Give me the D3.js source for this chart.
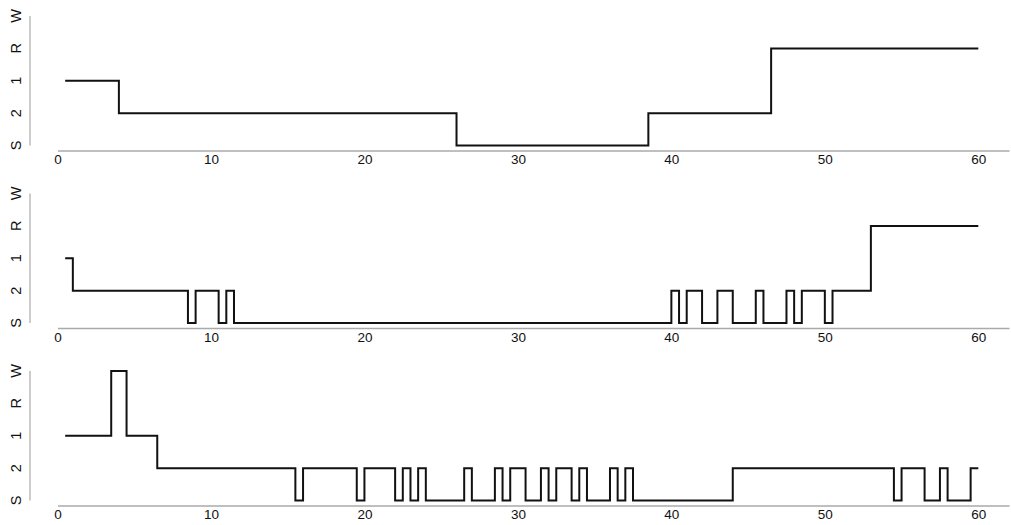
<!DOCTYPE html>
<html>
<head>
<meta charset="utf-8">
<script src="https://cdn.jsdelivr.net/npm/d3@7"></script>
<style>
  body { margin: 0; background: #fff; }
  svg { display: block; font-family: "Liberation Sans", Arial, sans-serif; }
</style>
</head>
<body>
<div id="chart"></div>
<script>
// sleep stages, bottom to top
var stages = ["S", "2", "1", "R", "W"];
var xTicks = [0, 10, 20, 30, 40, 50, 60];
var endTime = 60;

// each hypnogram: [start minute, stage] — the stage holds until the next start
var hypno1 = [[0.5, "1"], [4, "2"], [26, "S"], [38.5, "2"], [46.5, "R"]];
var hypno2 = [[0.5, "1"], [1, "2"], [8.5, "S"], [9, "2"], [10.5, "S"], [11, "2"], [11.5, "S"],
    [40, "2"], [40.5, "S"], [41, "2"], [42, "S"], [43, "2"], [44, "S"], [45.5, "2"], [46, "S"],
    [47.5, "2"], [48, "S"], [48.5, "2"], [50, "S"], [50.5, "2"], [53, "R"]];
var hypno3 = [[0.5, "1"], [3.5, "W"], [4.5, "1"], [6.5, "2"], [15.5, "S"], [16, "2"], [19.5, "S"],
    [20, "2"], [22, "S"], [22.5, "2"], [23, "S"], [23.5, "2"], [24, "S"], [26.5, "2"], [27, "S"],
    [28.5, "2"], [29, "S"], [29.5, "2"], [30.5, "S"], [31.5, "2"], [32, "S"], [32.5, "2"], [33.5, "S"],
    [34, "2"], [34.5, "S"], [36, "2"], [36.5, "S"], [37, "2"], [37.5, "S"], [44, "2"],
    [54.5, "S"], [55, "2"], [56.5, "S"], [57.5, "2"], [58, "S"], [59.5, "2"]];

var panels = [hypno1, hypno2, hypno3];

var W = 1011, H = 525;
var svg = d3.select("#chart").append("svg")
    .attr("width", W).attr("height", H);

var xScale = d3.scaleLinear().domain([0, 62]).range([57.5, 1009]);

// top (W) and bottom (S) pixel of each panel
var panelTop = [16, 193.5, 371];
var panelH = 129.5;

panels.forEach(function(data, k) {
    var top = panelTop[k];
    var yScale = d3.scalePoint().domain(stages).range([top + panelH, top]);
    var g = svg.append("g").attr("class", "panel");

    // x axis
    var xAxis = d3.axisBottom(xScale).tickValues(xTicks).tickSize(0).tickPadding(4);
    var gx = g.append("g")
        .attr("transform", "translate(0," + (top + panelH + 5) + ")")
        .call(xAxis);
    gx.select(".domain").attr("stroke", "#aaa").attr("stroke-width", 1.5);
    gx.selectAll("text").attr("font-size", 13.5).attr("fill", "#111")
        .attr("font-family", "Liberation Sans, Arial, sans-serif");

    // y axis line
    g.append("line")
        .attr("x1", 30).attr("x2", 30)
        .attr("y1", yScale("W")).attr("y2", yScale("S"))
        .attr("stroke", "#bbb").attr("stroke-width", 1.5);

    g.selectAll(".ylab")
        .data(stages)
        .enter()
        .append("text")
        .attr("class", "ylab")
        .attr("transform", function(d) { return "translate(16," + yScale(d) + ") rotate(-90)"; })
        .attr("text-anchor", "middle")
        .attr("dominant-baseline", "central")
        .attr("font-size", 14.5)
        .attr("fill", "#111")
        .text(function(d) { return d; });

    var pts = data.concat([[endTime, data[data.length - 1][1]]]);
    var line = d3.line()
        .x(function(d) { return xScale(d[0]); })
        .y(function(d) { return yScale(d[1]); })
        .curve(d3.curveStepAfter);

    g.append("path")
        .datum(pts)
        .attr("d", line)
        .attr("fill", "none")
        .attr("stroke", "#111")
        .attr("stroke-width", 2);
});
</script>
</body>
</html>
